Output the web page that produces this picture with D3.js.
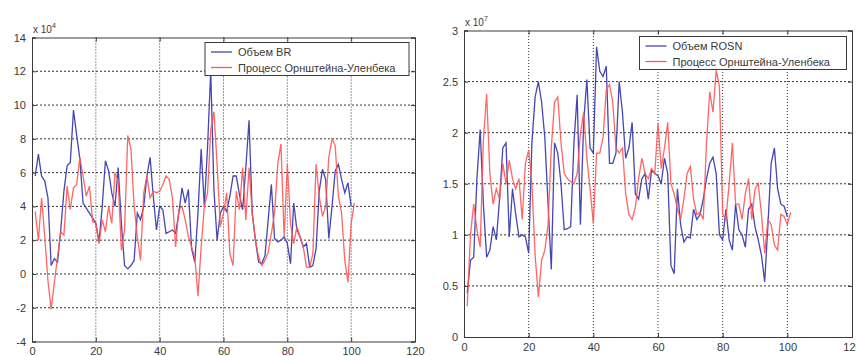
<!DOCTYPE html>
<html>
<head>
<meta charset="utf-8">
<script src="https://cdn.jsdelivr.net/npm/d3@7"></script>
<style>
  body { margin: 0; background: #fff; }
  svg text { font-family: "Liberation Sans", Arial, sans-serif; }
</style>
</head>
<body>
<div id="chart"></div>
<script>
// left panel: volume BR vs OU process (x 10^4)
const brVolume = [5.8, 7.1, 5.8, 5.5, 4.5, 0.5, 0.9, 0.7, 2.6, 4.9,
  6.4, 6.6, 9.7, 8.2, 6.8, 4.2, 3.9, 3.6, 3.3, 3.0,
  1.9, 4.0, 6.7, 6.1, 4.8, 4.0, 6.3, 3.0, 0.5, 0.3,
  0.5, 0.8, 3.6, 3.2, 4.0, 5.8, 6.9, 4.6, 2.6, 4.0,
  3.8, 2.4, 2.5, 2.6, 2.4, 3.6, 5.1, 4.2, 5.0, 1.5,
  0.7, 3.6, 7.4, 4.0, 7.5, 12.0, 5.0, 2.0, 3.6, 4.0,
  3.7, 4.6, 5.8, 5.8, 4.7, 3.8, 6.3, 9.1, 3.6, 2.0,
  0.7, 0.6, 1.1, 3.2, 5.3, 2.1, 1.9, 2.0, 2.2, 1.8,
  0.6, 4.2, 2.6, 2.2, 1.6, 1.8, 0.4, 0.5, 1.5, 4.9,
  6.2, 5.6, 2.1, 4.0, 6.1, 6.5, 5.6, 4.8, 5.4, 4.0];
const brOU = [3.7, 2.0, 4.5, 2.2, -0.4, -2.1, -0.5, 1.0, 2.5, 2.3,
  5.2, 3.8, 5.1, 5.3, 6.9, 5.8, 4.6, 5.2, 3.1, 3.0,
  1.8, 3.2, 2.5, 4.0, 3.0, 6.0, 5.5, 1.4, 2.6, 8.2,
  7.4, 4.0, 2.2, 0.8, 4.8, 5.8, 4.5, 4.9, 4.8, 4.9,
  5.3, 5.8, 5.6, 4.5, 1.6, 3.8, 4.0, 3.2, 2.2, 1.6,
  1.0, -1.3, 1.6, 4.0, 4.8, 8.5, 9.6, 6.5, 2.8, 3.6,
  4.8, 1.2, 0.5, 4.9, 3.8, 6.3, 3.2, 6.3, 3.6, 2.0,
  1.0, 0.5, 0.8, 1.3, 2.4, 3.6, 6.5, 7.7, 2.2, 6.5,
  3.0, 1.8, 2.8, 2.2, 1.6, 0.4, 0.4, 1.2, 6.5, 4.6,
  3.4, 4.0, 6.9, 8.0, 7.6, 4.6, 3.6, 0.8, -0.5, 3.0,
  4.2];

// right panel: volume ROSN vs OU process (x 10^7)
const rosnVolume = [0.43, 0.75, 0.78, 1.55, 2.03, 1.3, 0.78, 0.85, 1.08, 0.95,
  1.35, 1.85, 1.9, 0.98, 1.45, 1.2, 0.98, 1.0, 0.98, 0.82,
  1.9, 2.35, 2.5, 2.3, 1.95, 1.3, 0.66, 1.9, 1.8, 1.5,
  1.05, 1.06, 1.08, 1.9, 2.37, 1.1, 2.1, 2.52, 1.85, 1.8,
  2.84, 2.6, 2.55, 2.65, 1.7, 1.7, 1.8, 2.5, 2.2, 1.75,
  1.85, 2.1, 1.4, 1.35, 1.55, 1.6, 1.35, 1.63, 1.6, 1.58,
  1.5, 1.75, 1.6, 0.7, 0.62, 1.45, 1.1, 0.93, 0.98, 0.97,
  1.25, 1.15, 1.2, 1.35, 1.55, 1.7, 1.76, 1.6, 1.0, 0.95,
  1.25, 0.95, 0.85, 1.3, 1.05, 1.0, 0.88, 1.25, 1.3, 1.08,
  0.95, 0.8, 0.54, 1.1, 1.7, 1.85, 1.45, 1.3, 1.28, 1.18];
const rosnOU = [0.3, 1.0, 1.3, 1.05, 0.88, 1.93, 2.38, 1.6, 1.3, 1.45,
  1.35, 1.7, 1.5, 1.73, 1.55, 1.45, 1.55, 1.15, 1.7, 1.83,
  1.5, 0.8, 0.39, 0.75, 0.85, 1.1, 1.85, 2.3, 2.35, 1.9,
  1.6, 1.55, 1.52, 1.5, 1.6, 1.99, 2.2, 1.75, 1.45, 1.11,
  1.8, 1.8, 1.95, 2.42, 2.47, 2.3, 1.85, 1.8, 1.85, 1.4,
  1.2, 1.15, 1.27, 1.55, 1.75, 1.6, 1.55, 1.65, 1.6, 2.09,
  1.65, 1.85, 2.1, 1.5, 1.4, 1.25, 1.15, 1.35, 1.6, 1.67,
  1.35, 1.2, 1.22, 1.15, 1.9, 2.4, 2.2, 2.61, 2.45, 1.2,
  1.15, 1.5, 1.9, 1.3, 1.3, 1.15, 1.4, 1.55, 1.15, 1.45,
  1.5, 1.2, 0.82, 1.15, 1.1, 0.9, 0.85, 1.2, 1.18, 1.1,
  1.22];

const xTicks = [0, 20, 40, 60, 80, 100, 120];
const yTicksLeft = [-4, -2, 0, 2, 4, 6, 8, 10, 12, 14];
const yTicksRight = [0, 0.5, 1, 1.5, 2, 2.5, 3];
const legendLeft = ["Объем BR", "Процесс Орнштейна-Уленбека"];
const legendRight = ["Объем ROSN", "Процесс Орнштейна-Уленбека"];

const blue = "#4646b4";
const red = "#ff5555";
const ink = "#3a3a3a";

const svg = d3.select("#chart").append("svg")
  .attr("width", 856).attr("height", 356);

function panel(opts) {
  const x = d3.scaleLinear().domain([0, 120]).range(opts.xr);
  const y = d3.scaleLinear().domain(opts.yd).range(opts.yr);
  const g = svg.append("g");
  const [x0, x1] = opts.xr, [y0, y1] = opts.yr; // y0 bottom, y1 top

  // dotted grid
  g.selectAll(".gx").data(opts.xt.slice(1, -1)).enter().append("line")
    .attr("x1", d => x(d)).attr("x2", d => x(d)).attr("y1", y0).attr("y2", y1)
    .attr("stroke", "#333").attr("stroke-dasharray", "1,2");
  g.selectAll(".gy").data(opts.yt.slice(1, -1)).enter().append("line")
    .attr("y1", d => y(d)).attr("y2", d => y(d)).attr("x1", x0).attr("x2", x1)
    .attr("stroke", "#333").attr("stroke-dasharray", "2,2");

  // series
  const line = d3.line().x((d, i) => x(i + 1)).y(d => y(d));
  g.append("path").datum(opts.s1).attr("d", line)
    .attr("fill", "none").attr("stroke", blue).attr("stroke-width", 1.3);
  g.append("path").datum(opts.s2).attr("d", line)
    .attr("fill", "none").attr("stroke", red).attr("stroke-width", 1.3)
    .attr("stroke-opacity", 0.9);

  // axes: inward ticks on all four sides, matlab style
  const tk = 4;
  g.append("g").attr("transform", `translate(0,${y0})`)
    .call(d3.axisBottom(x).tickValues(opts.xt).tickSize(-tk).tickPadding(6).tickFormat(d3.format("d")));
  g.append("g").attr("transform", `translate(0,${y1})`)
    .call(d3.axisTop(x).tickValues(opts.xt).tickSize(-tk).tickFormat(""));
  g.append("g").attr("transform", `translate(${x0},0)`)
    .call(d3.axisLeft(y).tickValues(opts.yt).tickSize(-tk).tickPadding(6).tickFormat(d => String(d)));
  g.append("g").attr("transform", `translate(${x1},0)`)
    .call(d3.axisRight(y).tickValues(opts.yt).tickSize(-tk).tickFormat(""));
  g.selectAll(".domain").attr("stroke", ink);
  g.selectAll(".tick line").attr("stroke", ink);
  g.selectAll(".tick text").attr("fill", ink).attr("font-size", 11);

  // exponent label
  const ex = g.append("text").attr("x", x0 + 1).attr("y", y1 - 5)
    .attr("font-size", 10).attr("fill", ink);
  ex.append("tspan").text("x 10");
  ex.append("tspan").attr("dy", -5).attr("font-size", 7).text(opts.exp);

  // legend
  const lg = opts.lg;
  g.append("rect").attr("x", lg.x).attr("y", lg.y).attr("width", lg.w).attr("height", lg.h)
    .attr("fill", "#fff").attr("stroke", ink).attr("stroke-width", 1);
  [blue, red].forEach((c, i) => {
    const ly = lg.y + 9.5 + i * 15.5;
    g.append("line").attr("x1", lg.x + 6).attr("x2", lg.x + 27).attr("y1", ly).attr("y2", ly)
      .attr("stroke", c).attr("stroke-width", 1.3);
    g.append("text").attr("x", lg.x + 33).attr("y", ly + 4)
      .attr("font-size", 11).attr("fill", ink).text(opts.labels[i]);
  });
}

panel({
  xr: [32, 415], yr: [341.5, 37.5], yd: [-4, 14],
  xt: xTicks, yt: yTicksLeft, exp: "4",
  s1: brVolume, s2: brOU, labels: legendLeft,
  lg: { x: 205, y: 42.5, w: 204, h: 33 }
});
panel({
  xr: [464, 852], yr: [337, 30.5], yd: [0, 3],
  xt: xTicks, yt: yTicksRight, exp: "7",
  s1: rosnVolume, s2: rosnOU, labels: legendRight,
  lg: { x: 639.5, y: 36.5, w: 207, h: 33 }
});
</script>
</body>
</html>
